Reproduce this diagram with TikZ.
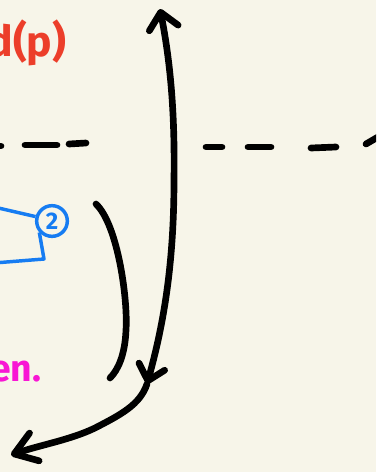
\documentclass[tikz,border=0pt]{standalone}
\usepackage{fontspec}
\setsansfont{Fira Sans}
\usetikzlibrary{arrows.meta}
\definecolor{paper}{RGB}{247,245,233}
\definecolor{inkred}{RGB}{236,62,42}
\definecolor{inkblue}{RGB}{22,124,242}
\definecolor{inkpink}{RGB}{248,22,212}

\begin{document}
\begin{tikzpicture}[x=0.75pt,y=-0.75pt]
    % Background and frame
    \fill[paper] (0,0) rectangle (376,472);
    \useasboundingbox (0,0) rectangle (376,472);
    \clip (0,0) rectangle (376,472);

    % Points of the long arrow
    \coordinate (T) at (160,9);
    \coordinate (M) at (174,180);
    \coordinate (V) at (147,384);
    \coordinate (L) at (11,455);

    % Points of the bracket
    \coordinate (P) at (96,204);
    \coordinate (Q) at (126,330);
    \coordinate (R) at (110,378);

    % Dashed line (left part)
    \draw[line width=5pt, line cap=round] (0,146) -- (1,146);
    \draw[line width=5pt, line cap=round] (25,145) -- (57,145);
    \draw[line width=5pt, line cap=round] (69,144) -- (86,143);

    % Dashed line (right part)
    \draw[line width=5pt, line cap=round] (206,147) -- (222,147);
    \draw[line width=5pt, line cap=round] (248,147) -- (271,147);
    \draw[line width=5pt, line cap=round] (311,148) -- (336,147);
    \draw[line width=5pt, line cap=round] (366,144) -- (378,137);

    % Long double arrow
    \draw[line width=5pt, line cap=round,
          {Straight Barb[length=12pt,width=22pt,round]}-{Straight Barb[length=11pt,width=20pt,round]}]
        (T) .. controls (170,60) and (175,110) .. (M)
            .. controls (174,270) and (162,330) .. (V);

    % Arrow to the lower left
    \draw[line width=5pt, line cap=round, -{Straight Barb[length=16pt,width=22pt,round]}]
        (V) .. controls (140,405) and (120,415) .. (95,428)
            .. controls (70,440) and (40,445) .. (L);

    % Bracket
    \draw[line width=5pt, line cap=round]
        (P) .. controls (118,225) and (128,300) .. (Q)
            .. controls (125,355) and (118,370) .. (R);

    % Blue box with its number
    \node[draw=inkblue, circle, line width=2.6pt, minimum size=23pt, inner sep=0pt,
          text=inkblue, font=\sffamily\bfseries\fontsize{18}{18}\selectfont] (two) at (52,221) {2};
    \coordinate (BL) at (-6,207);
    \coordinate (BC) at (44,259);
    \coordinate (BB) at (-6,263);
    \draw[inkblue, line width=2.6pt, line join=round] (BL) -- (two.165);
    \draw[inkblue, line width=2.6pt, line join=round] (two.222) -- (BC) -- (BB);
    \node[anchor=base east, text=inkblue, font=\sffamily\bfseries\fontsize{22}{22}\selectfont] (boxtext) at (4,243) {e};

    % Labels
    \node[anchor=base east, text=inkred, font=\sffamily\bfseries\fontsize{32}{32}\selectfont] (redlabel) at (71,56) {ed(p)};
    \node[anchor=base east, text=inkpink, font=\sffamily\bfseries\fontsize{28}{28}\selectfont] (pinklabel) at (46,381) {en.};
\end{tikzpicture}
\end{document}
